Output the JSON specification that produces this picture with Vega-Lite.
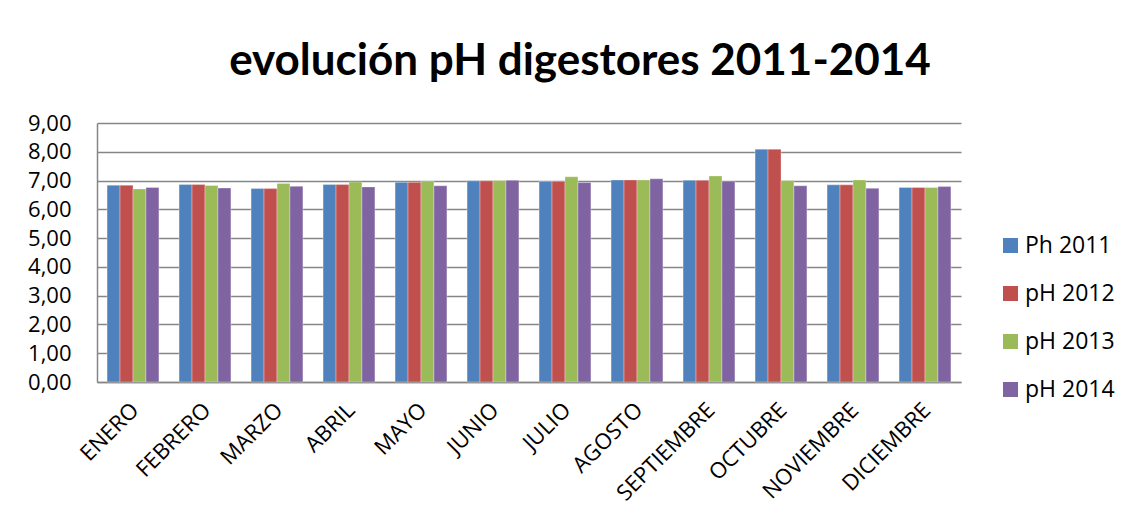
{
  "$schema": "https://vega.github.io/schema/vega-lite/v6.json",
  "width": 864,
  "height": 259,
  "autosize": {"type": "none"},
  "padding": {"left": 97, "top": 123, "right": 167, "bottom": 147},
  "background": "white",
  "title": {
    "text": "evolución pH digestores 2011-2014",
    "font": "Lato",
    "fontSize": 44,
    "fontWeight": "bold",
    "color": "black",
    "anchor": "middle",
    "dx": 51,
    "offset": 28
  },
  "data": {
    "values": [
      {"mes": "ENERO", "serie": "Ph 2011", "ph": 6.84},
      {"mes": "ENERO", "serie": "pH 2012", "ph": 6.84},
      {"mes": "ENERO", "serie": "pH 2013", "ph": 6.71},
      {"mes": "ENERO", "serie": "pH 2014", "ph": 6.76},
      {"mes": "FEBRERO", "serie": "Ph 2011", "ph": 6.86},
      {"mes": "FEBRERO", "serie": "pH 2012", "ph": 6.86},
      {"mes": "FEBRERO", "serie": "pH 2013", "ph": 6.83},
      {"mes": "FEBRERO", "serie": "pH 2014", "ph": 6.74},
      {"mes": "MARZO", "serie": "Ph 2011", "ph": 6.72},
      {"mes": "MARZO", "serie": "pH 2012", "ph": 6.72},
      {"mes": "MARZO", "serie": "pH 2013", "ph": 6.9},
      {"mes": "MARZO", "serie": "pH 2014", "ph": 6.8},
      {"mes": "ABRIL", "serie": "Ph 2011", "ph": 6.86},
      {"mes": "ABRIL", "serie": "pH 2012", "ph": 6.86},
      {"mes": "ABRIL", "serie": "pH 2013", "ph": 6.95},
      {"mes": "ABRIL", "serie": "pH 2014", "ph": 6.78},
      {"mes": "MAYO", "serie": "Ph 2011", "ph": 6.94},
      {"mes": "MAYO", "serie": "pH 2012", "ph": 6.94},
      {"mes": "MAYO", "serie": "pH 2013", "ph": 6.98},
      {"mes": "MAYO", "serie": "pH 2014", "ph": 6.82},
      {"mes": "JUNIO", "serie": "Ph 2011", "ph": 6.99},
      {"mes": "JUNIO", "serie": "pH 2012", "ph": 6.99},
      {"mes": "JUNIO", "serie": "pH 2013", "ph": 7.0},
      {"mes": "JUNIO", "serie": "pH 2014", "ph": 7.01},
      {"mes": "JULIO", "serie": "Ph 2011", "ph": 6.97},
      {"mes": "JULIO", "serie": "pH 2012", "ph": 6.97},
      {"mes": "JULIO", "serie": "pH 2013", "ph": 7.13},
      {"mes": "JULIO", "serie": "pH 2014", "ph": 6.93},
      {"mes": "AGOSTO", "serie": "Ph 2011", "ph": 7.02},
      {"mes": "AGOSTO", "serie": "pH 2012", "ph": 7.02},
      {"mes": "AGOSTO", "serie": "pH 2013", "ph": 7.02},
      {"mes": "AGOSTO", "serie": "pH 2014", "ph": 7.06},
      {"mes": "SEPTIEMBRE", "serie": "Ph 2011", "ph": 7.01},
      {"mes": "SEPTIEMBRE", "serie": "pH 2012", "ph": 7.01},
      {"mes": "SEPTIEMBRE", "serie": "pH 2013", "ph": 7.16},
      {"mes": "SEPTIEMBRE", "serie": "pH 2014", "ph": 6.98},
      {"mes": "OCTUBRE", "serie": "Ph 2011", "ph": 8.09},
      {"mes": "OCTUBRE", "serie": "pH 2012", "ph": 8.09},
      {"mes": "OCTUBRE", "serie": "pH 2013", "ph": 7.0},
      {"mes": "OCTUBRE", "serie": "pH 2014", "ph": 6.82},
      {"mes": "NOVIEMBRE", "serie": "Ph 2011", "ph": 6.85},
      {"mes": "NOVIEMBRE", "serie": "pH 2012", "ph": 6.85},
      {"mes": "NOVIEMBRE", "serie": "pH 2013", "ph": 7.02},
      {"mes": "NOVIEMBRE", "serie": "pH 2014", "ph": 6.73},
      {"mes": "DICIEMBRE", "serie": "Ph 2011", "ph": 6.76},
      {"mes": "DICIEMBRE", "serie": "pH 2012", "ph": 6.76},
      {"mes": "DICIEMBRE", "serie": "pH 2013", "ph": 6.76},
      {"mes": "DICIEMBRE", "serie": "pH 2014", "ph": 6.79}
    ]
  },
  "mark": {"type": "bar", "stroke": "white", "strokeOpacity": 0.5, "strokeWidth": 0.6},
  "encoding": {
    "x": {
      "field": "mes",
      "type": "nominal",
      "sort": null,
      "title": null,
      "scale": {"paddingInner": 0.28, "paddingOuter": 0.14},
      "axis": {
        "labelAngle": -45,
        "labelFont": "Open Sans",
        "labelFontSize": 22,
        "labelColor": "black",
        "labelPadding": 17,
        "labelOffset": -5,
        "ticks": false,
        "domainColor": "#868686",
        "domainWidth": 1.5,
        "grid": false
      }
    },
    "xOffset": {"field": "serie", "type": "nominal", "sort": null},
    "y": {
      "field": "ph",
      "type": "quantitative",
      "title": null,
      "scale": {"domain": [0, 9], "nice": false},
      "axis": {
        "values": [0, 1, 2, 3, 4, 5, 6, 7, 8, 9],
        "labelExpr": "replace(format(datum.value, '.2f'), '.', ',')",
        "labelFont": "Open Sans",
        "labelFontSize": 22,
        "labelColor": "black",
        "labelPadding": 26,
        "ticks": false,
        "domainColor": "#868686",
        "domainWidth": 1.5,
        "gridColor": "#868686",
        "gridWidth": 1.5
      }
    },
    "color": {
      "field": "serie",
      "type": "nominal",
      "sort": null,
      "scale": {
        "domain": ["Ph 2011", "pH 2012", "pH 2013", "pH 2014"],
        "range": ["#4F81BD", "#C0504D", "#9BBB59", "#8064A2"]
      },
      "legend": {
        "title": null,
        "orient": "none",
        "legendX": 902,
        "legendY": 111,
        "symbolType": "square",
        "symbolSize": 225,
        "symbolStrokeWidth": 0,
        "labelFont": "Open Sans",
        "labelFontSize": 23,
        "labelColor": "black",
        "labelOffset": 3,
        "rowPadding": 24
      }
    }
  },
  "config": {
    "view": {"stroke": null}
  }
}
